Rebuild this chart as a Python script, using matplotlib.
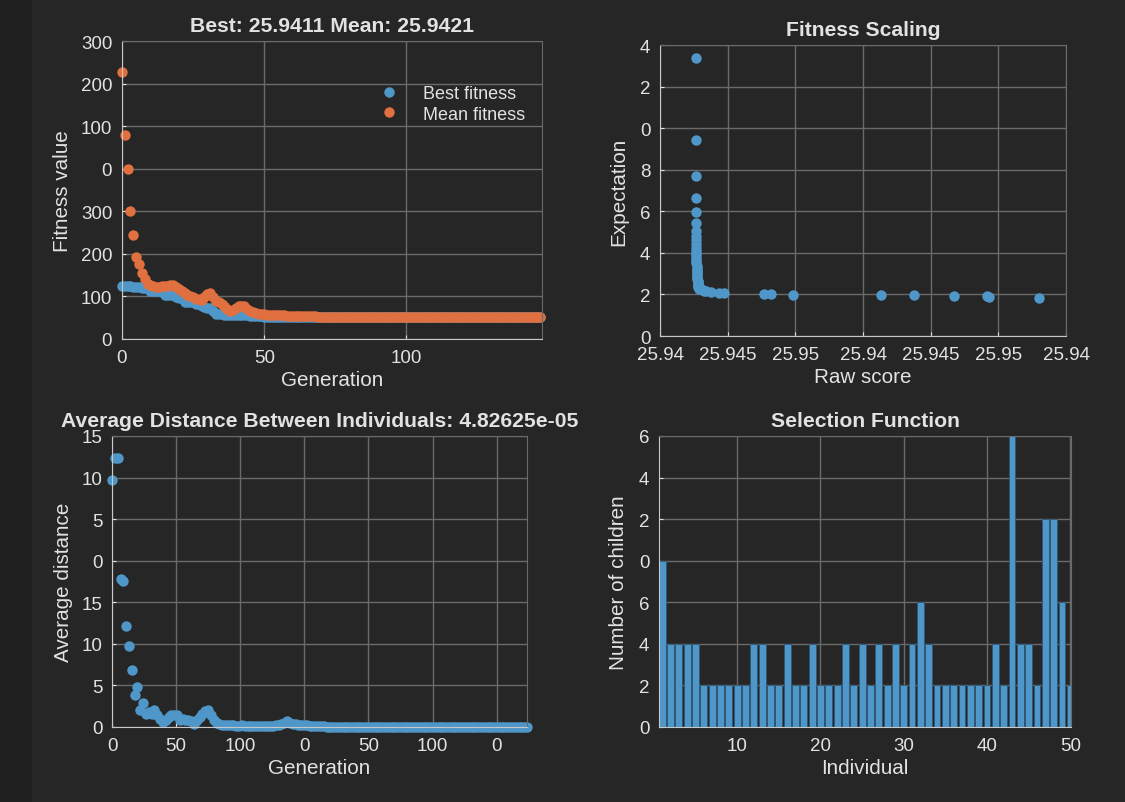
import numpy as np
import matplotlib.pyplot as plt
from matplotlib.patches import Rectangle

# ---- data ----
best_fitness = [
    61.8, 61.8, 61.8, 61.8, 61.5, 60.6, 60.6, 59.4, 59.4, 59.4,
    56.7, 56.7, 56.7, 56.7, 54.7, 51.6, 51.6, 51.6, 51.6, 49.6,
    47.7, 47.7, 43.8, 43.8, 43.8, 43.0, 41.0, 41.0, 38.3, 37.1,
    36.0, 36.0, 33.2, 29.3, 29.3, 29.3, 28.5, 28.5, 28.5, 28.5,
    28.1, 28.1, 28.1, 27.8, 27.8, 27.4, 27.4, 27.0, 27.0, 26.6,
    26.4, 26.3, 26.2, 26.1, 26.1, 26.0, 26.0, 26.0, 25.98, 25.98,
    25.97, 25.97, 25.97, 25.96, 25.96, 25.96, 25.96, 25.95, 25.95, 25.95,
    25.95, 25.95, 25.95, 25.95, 25.95, 25.95, 25.95, 25.95, 25.95, 25.945,
    25.945, 25.945, 25.945, 25.945, 25.945, 25.945, 25.945, 25.945, 25.945, 25.945,
    25.945, 25.945, 25.945, 25.945, 25.945, 25.943, 25.943, 25.943, 25.943, 25.943,
    25.943, 25.943, 25.943, 25.943, 25.943, 25.943, 25.943, 25.943, 25.943, 25.943,
    25.942, 25.942, 25.942, 25.942, 25.942, 25.942, 25.942, 25.942, 25.942, 25.942,
    25.942, 25.942, 25.942, 25.942, 25.942, 25.942, 25.942, 25.942, 25.942, 25.942,
    25.9415, 25.9415, 25.9415, 25.9415, 25.9415, 25.9415, 25.9415, 25.9415, 25.9415, 25.9415,
    25.9411, 25.9411, 25.9411, 25.9411, 25.9411, 25.9411, 25.9411, 25.9411,
]
mean_fitness = [
    313.9, 239.2, 200.2, 150.5, 122.7, 95.8, 88.0, 78.0, 70.4, 64.5,
    63.5, 62.0, 61.0, 61.0, 62.0, 62.5, 62.5, 64.0, 63.3, 60.6,
    58.6, 55.9, 53.9, 51.6, 50.8, 48.9, 46.9, 46.9, 46.1, 48.9,
    52.8, 53.9, 49.6, 45.0, 43.0, 41.0, 38.3, 35.2, 33.2, 34.4,
    36.0, 38.3, 39.1, 38.3, 35.2, 32.8, 31.3, 30.5, 29.7, 29.3,
    28.9, 28.5, 28.3, 28.0, 27.8, 27.8, 27.6, 27.6, 27.3, 27.0,
    26.9, 26.8, 26.8, 26.7, 26.6, 26.6, 26.5, 26.6, 26.5, 26.4,
    26.3, 26.3, 26.2, 26.2, 26.1, 26.1, 26.1, 26.0, 26.0, 26.0,
    25.99, 25.99, 25.98, 25.98, 25.98, 25.97, 25.97, 25.97, 25.97, 25.96,
    25.96, 25.96, 25.96, 25.96, 25.96, 25.96, 25.96, 25.96, 25.96, 25.96,
    25.955, 25.955, 25.955, 25.955, 25.955, 25.955, 25.955, 25.955, 25.955, 25.955,
    25.95, 25.95, 25.95, 25.95, 25.95, 25.95, 25.95, 25.95, 25.95, 25.95,
    25.948, 25.948, 25.948, 25.948, 25.948, 25.948, 25.948, 25.948, 25.948, 25.948,
    25.945, 25.945, 25.945, 25.945, 25.945, 25.945, 25.945, 25.945, 25.945, 25.945,
    25.943, 25.943, 25.943, 25.943, 25.943, 25.943, 25.943, 25.9421,
]
avg_distance = [
    29.7, 32.4, 32.4, 17.8, 17.6, 12.2, 9.7, 6.9, 3.8, 4.8,
    2.0, 2.9, 1.6, 1.8, 1.6, 2.0, 1.5, 1.0, 0.6, 0.8,
    1.2, 1.5, 1.4, 1.5, 0.9, 1.0, 0.8, 0.8, 0.7, 0.4,
    0.8, 1.2, 1.6, 1.9, 2.0, 1.4, 0.8, 0.5, 0.4, 0.3,
    0.3, 0.25, 0.2, 0.2, 0.15, 0.15, 0.2, 0.15, 0.12, 0.1,
    0.1, 0.1, 0.12, 0.1, 0.1, 0.1, 0.12, 0.15, 0.2, 0.3,
    0.4, 0.5, 0.7, 0.5, 0.4, 0.35, 0.3, 0.25, 0.2, 0.2,
    0.15, 0.15, 0.1, 0.1, 0.1, 0.08, 0.06, 0.05, 0.05, 0.04,
    0.04, 0.04, 0.03, 0.03, 0.03, 0.03, 0.02, 0.02, 0.02, 0.02,
    0.02, 0.015, 0.015, 0.015, 0.01, 0.01, 0.01, 0.01, 0.01, 0.01,
    0.008, 0.008, 0.007, 0.007, 0.006, 0.006, 0.005, 0.005, 0.005, 0.004,
    0.004, 0.004, 0.003, 0.003, 0.003, 0.003, 0.002, 0.002, 0.002, 0.002,
    0.002, 0.001, 0.001, 0.001, 0.001, 0.001, 0.001, 0.0008, 0.0008, 0.0007,
    0.0006, 0.0005, 0.0005, 0.0004, 0.0003, 0.0003, 0.0002, 0.0002, 0.0002, 0.0001,
    0.0001, 0.0001, 0.0001, 0.00008, 0.00007, 0.00006, 0.00005, 0.0000483,
]
raw_scores = [
    25.94265, 25.94265, 25.94265, 25.94265, 25.94265, 25.94265, 25.94266, 25.94266,
    25.94266, 25.94267, 25.94267, 25.94267, 25.94268, 25.94268, 25.94268, 25.94269,
    25.94269, 25.94270, 25.94270, 25.94271, 25.94271, 25.94272, 25.94273, 25.94274,
    25.94275, 25.94276, 25.94277, 25.94278, 25.94279, 25.94280, 25.94282, 25.94284,
    25.94286, 25.94290, 25.94300, 25.94315,
    25.94340, 25.94379, 25.94432, 25.94472, 25.94765, 25.94819, 25.94979,
    25.95632, 25.95877, 25.96173, 25.96413, 25.96432, 25.96800, 25.94325,
]
expectation = [
    13.36, 9.45, 7.70, 6.66, 5.97, 5.42, 5.05, 4.80, 4.60, 4.42, 4.25, 4.10,
    3.96, 3.83, 3.71, 3.60, 3.49, 3.39, 3.29, 3.20, 3.11, 3.03, 2.95, 2.88,
    2.81, 2.74, 2.67, 2.61, 2.55, 2.49, 2.43, 2.38, 2.33, 2.28, 2.24, 2.21,
    2.16, 2.12, 2.09, 2.05, 2.04, 2.02, 1.99,
    1.97, 1.96, 1.92, 1.91, 1.89, 1.84, 2.18,
]
children = [
    8, 4, 4, 4, 4, 2, 2, 2, 2, 2,
    2, 4, 4, 2, 2, 4, 2, 2, 4, 2,
    2, 2, 4, 2, 4, 2, 4, 2, 4, 2,
    4, 6, 4, 2, 2, 2, 2, 2, 2, 2,
    4, 2, 14, 4, 4, 2, 10, 10, 6, 2,
]

tl_yticklabels = ['0', '100', '200', '300', '0', '100', '200', '300']
tr_xticklabels = ['25.94', '25.945', '25.95', '25.94', '25.945', '25.95', '25.94']
tr_yticklabels = ['0', '2', '4', '6', '8', '0', '2', '4']
bl_xticklabels = ['0', '50', '100', '0', '50', '100', '0']
bl_yticklabels = ['0', '5', '10', '15', '0', '5', '10', '15']
br_yticklabels = ['0', '2', '4', '6', '0', '2', '4', '6']

# ---- style ----
BG = '#262626'
FG = '#e2e2e2'
GRID = '#6a6a6a'
BLUE = '#4f97c8'
ORANGE = '#e07040'
TITLE_FS = 15.2
LABEL_FS = 14.9

plt.rcParams['font.family'] = ['Liberation Sans', 'DejaVu Sans']
plt.rcParams['font.size'] = 13.5

fig = plt.figure(figsize=(11.25, 8.03), dpi=100)
fig.patch.set_facecolor(BG)
fig.patches.append(Rectangle((0, 0), 32 / 1125, 1, transform=fig.transFigure,
                             facecolor='#202020', edgecolor='none', zorder=-1))


def style_axes(ax):
    ax.set_facecolor(BG)
    ax.grid(True, color=GRID, linewidth=1)
    ax.set_axisbelow(True)
    for side in ['left', 'bottom']:
        ax.spines[side].set_color('#c8c8c8')
    for side in ['top', 'right']:
        ax.spines[side].set_color(GRID)
    ax.tick_params(colors=FG, direction='in', length=3, labelsize=13.5,
                   pad=7, top=False, right=False)


gens = np.arange(len(best_fitness))

# top-left: fitness
ax1 = fig.add_axes([0.1084, 0.5766, 0.3733, 0.371])
style_axes(ax1)
ax1.plot(gens, best_fitness, 'o', ms=7.5, mec='none', color=BLUE,
         label='Best fitness', clip_on=False)
ax1.plot(gens, mean_fitness, 'o', ms=7.5, mec='none', color=ORANGE,
         label='Mean fitness', clip_on=False)
ax1.set_xlim(0, 147.6)
ax1.set_ylim(0, 350)
ax1.set_xticks([0, 50, 100])
ax1.set_yticks(np.arange(0, 351, 50))
ax1.set_yticklabels(tl_yticklabels)
ax1.set_xlabel('Generation', color=FG, fontsize=LABEL_FS, labelpad=3)
ax1.set_ylabel('Fitness value', color=FG, fontsize=LABEL_FS, labelpad=6)
ax1.set_title('Best: 25.9411 Mean: 25.9421', color=FG, fontsize=TITLE_FS,
              fontweight='bold', pad=7)
leg = ax1.legend(loc='upper left', bbox_to_anchor=(0.562, 0.895), frameon=False,
                 fontsize=13, handletextpad=0.9, labelspacing=0.2,
                 borderpad=0.2)
for t in leg.get_texts():
    t.set_color(FG)

# top-right: fitness scaling
ax2 = fig.add_axes([0.5867, 0.5803, 0.3609, 0.3624])
style_axes(ax2)
ax2.plot(raw_scores, expectation, 'o', ms=7.5, mec='none', color=BLUE)
ax2.set_xlim(25.94, 25.97)
ax2.set_ylim(0, 14)
ax2.set_xticks(np.linspace(25.94, 25.97, 7))
ax2.set_xticklabels(tr_xticklabels)
ax2.set_yticks(np.arange(0, 15, 2))
ax2.set_yticklabels(tr_yticklabels)
ax2.set_xlabel('Raw score', color=FG, fontsize=LABEL_FS, labelpad=3)
ax2.set_ylabel('Expectation', color=FG, fontsize=LABEL_FS, labelpad=8)
ax2.set_title('Fitness Scaling', color=FG, fontsize=TITLE_FS, fontweight='bold', pad=7)

# bottom-left: average distance
ax3 = fig.add_axes([0.0996, 0.0934, 0.3689, 0.3624])
style_axes(ax3)
dist_gens = np.arange(len(avg_distance))
ax3.plot(dist_gens, avg_distance, 'o', ms=7.5, mec='none', color=BLUE, clip_on=False)
ax3.set_xlim(0, 147)
ax3.set_ylim(0, 35)
ax3.set_xticks(np.arange(7) * 147 / 6.475)
ax3.set_xticklabels(bl_xticklabels)
ax3.set_yticks(np.arange(0, 36, 5))
ax3.set_yticklabels(bl_yticklabels)
ax3.set_xlabel('Generation', color=FG, fontsize=LABEL_FS, labelpad=3)
ax3.set_ylabel('Average distance', color=FG, fontsize=LABEL_FS, labelpad=6)
ax3.set_title('Average Distance Between Individuals: 4.82625e-05', color=FG,
              fontsize=TITLE_FS, fontweight='bold', pad=7)

# bottom-right: selection
ax4 = fig.add_axes([0.5858, 0.0934, 0.3662, 0.3624])
style_axes(ax4)
individuals = np.arange(1, len(children) + 1)
ax4.bar(individuals, children, width=0.82, color=BLUE, edgecolor='#2d5878',
        linewidth=0.6)
ax4.set_xlim(0.62, 50.08)
ax4.set_ylim(0, 14)
ax4.set_xticks([10, 20, 30, 40, 50])
ax4.set_yticks(np.arange(0, 15, 2))
ax4.set_yticklabels(br_yticklabels)
ax4.set_xlabel('Individual', color=FG, fontsize=LABEL_FS, labelpad=3)
ax4.set_ylabel('Number of children', color=FG, fontsize=LABEL_FS, labelpad=8)
ax4.set_title('Selection Function', color=FG, fontsize=TITLE_FS, fontweight='bold', pad=7)

fig.savefig('out.png', dpi=100, facecolor=fig.get_facecolor())
